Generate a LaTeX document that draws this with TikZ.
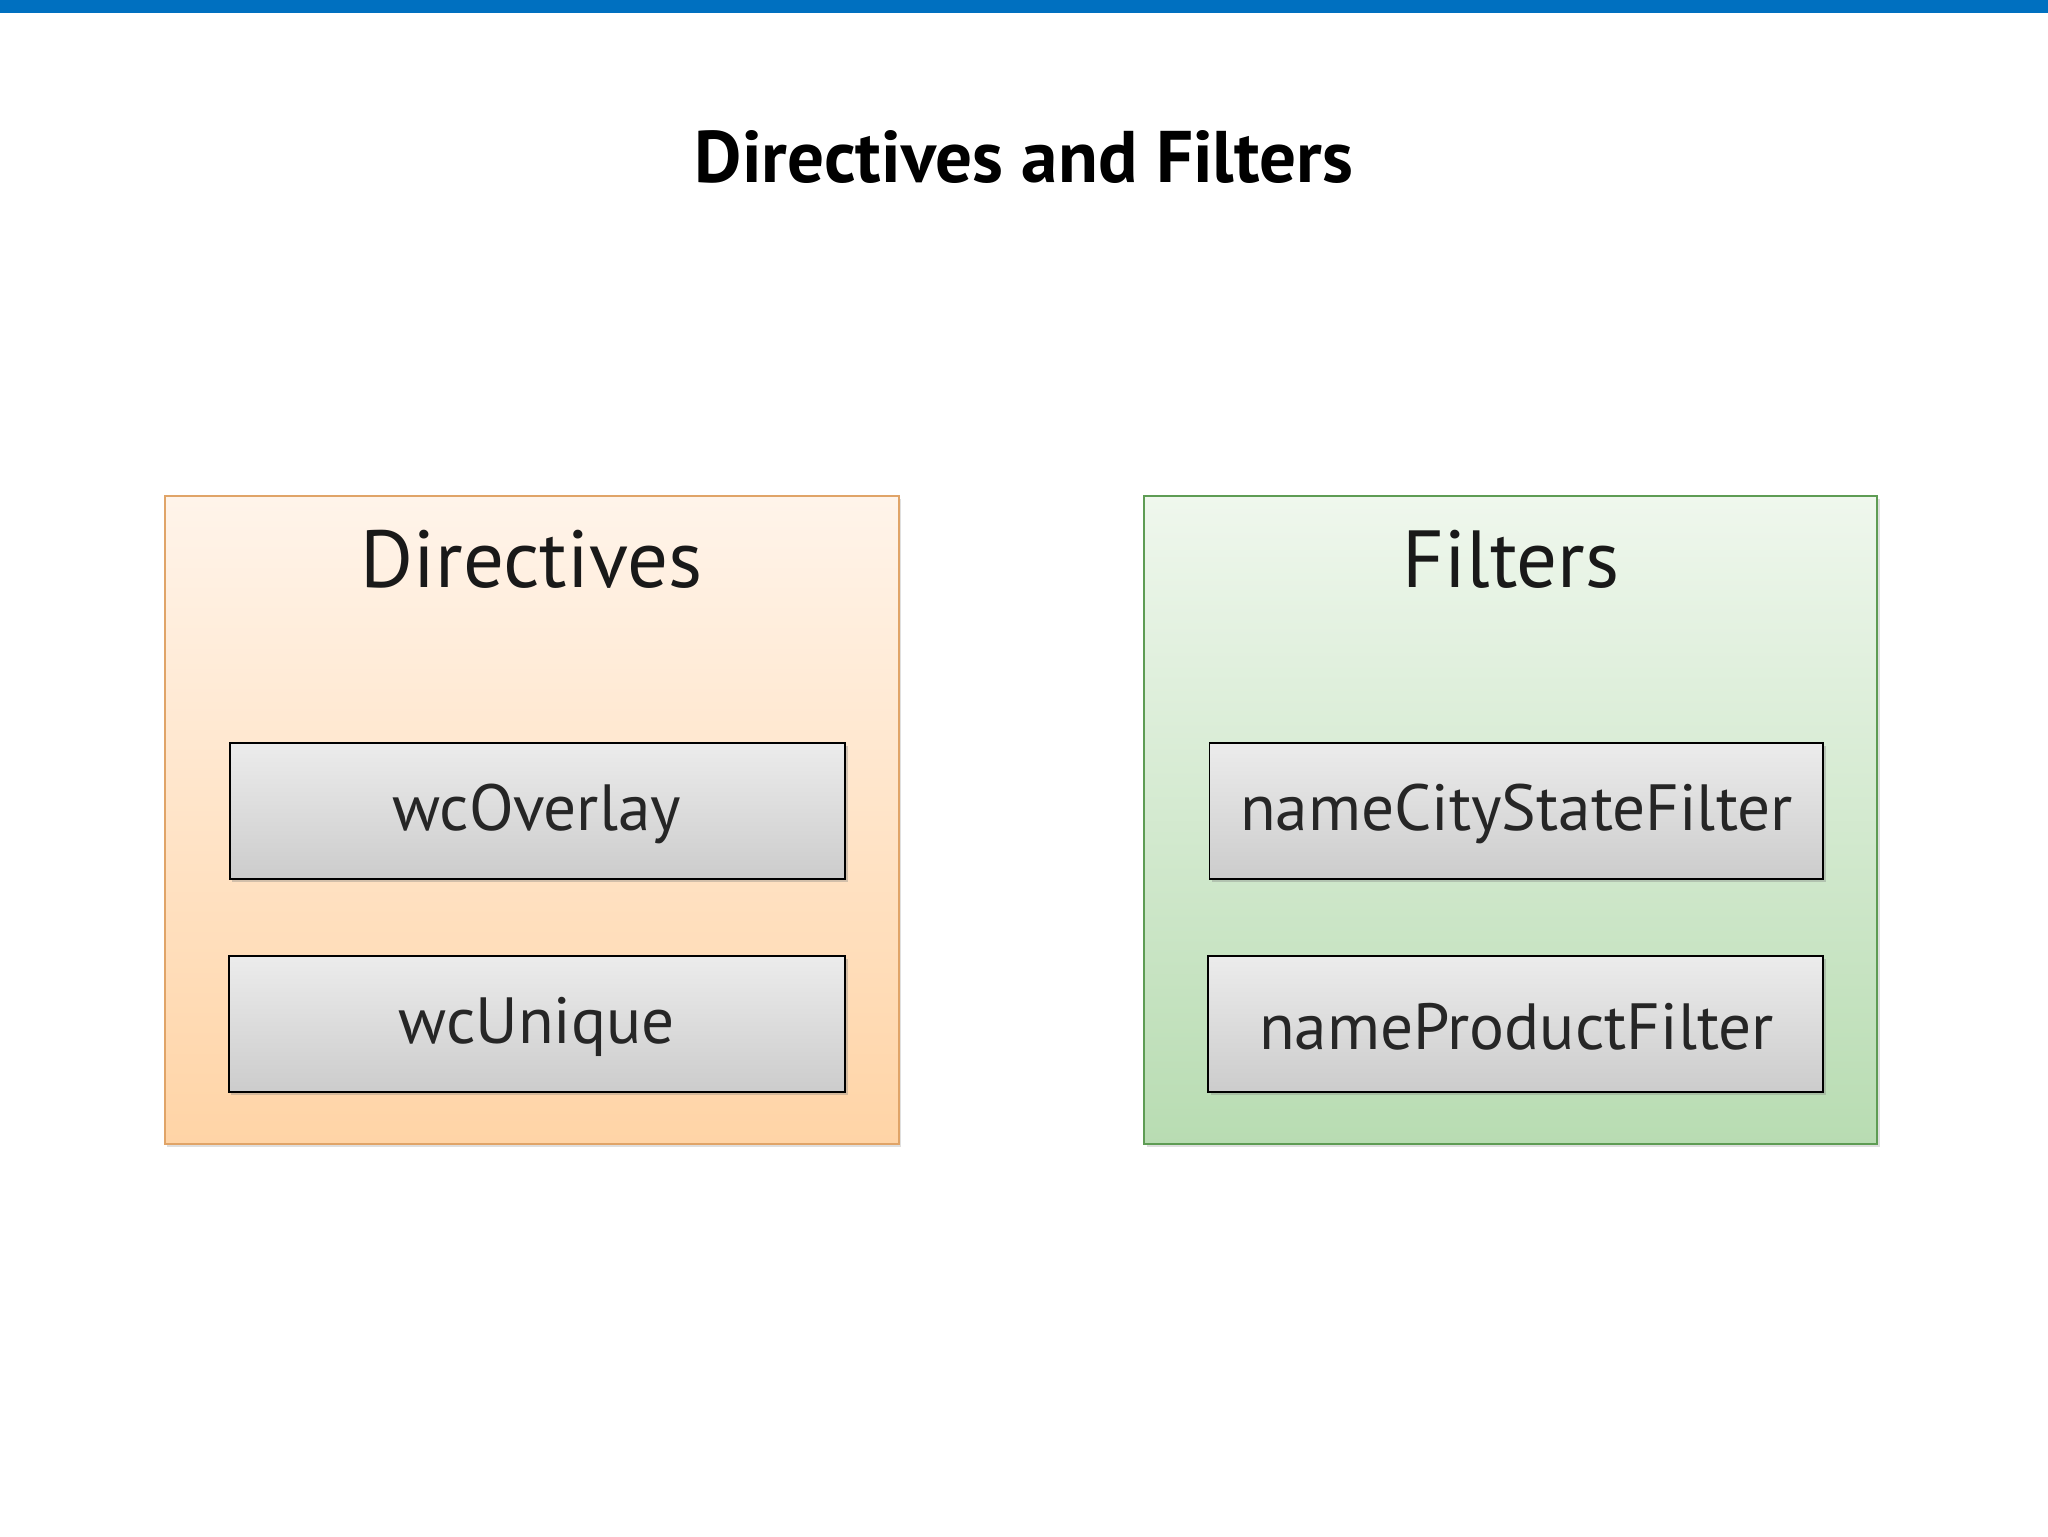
\documentclass[tikz,border=0pt]{standalone}
\usepackage{fontspec}
\setmainfont{PT Sans}
\usetikzlibrary{shadows}
\definecolor{barblue}{HTML}{0070C0}
\definecolor{otop}{HTML}{FFF4EA}
\definecolor{obot}{HTML}{FFD4A6}
\definecolor{oline}{HTML}{E0A468}
\definecolor{gtop}{HTML}{EFF7ED}
\definecolor{gbot}{HTML}{B8DCB2}
\definecolor{gline}{HTML}{5E9C54}
\begin{document}
\begin{tikzpicture}[x=1pt,y=-1pt,
  outer/.style={draw=#1, line width=1.5pt, drop shadow={opacity=0.25,shadow xshift=2pt,shadow yshift=-2pt}},
  inner/.style={draw=black, line width=1.5pt, top color=gray!15, bottom color=gray!40,
     drop shadow={opacity=0.35,shadow xshift=2pt,shadow yshift=-2pt}},
  itext/.style={font=\fontsize{50}{60}\selectfont, text=black!85},
  htext/.style={font=\fontsize{62}{70}\selectfont, text=black!90}]
\useasboundingbox (0,0) rectangle (1568,1176);
\fill[white] (0,0) rectangle (1568,1176);
\fill[barblue] (0,0) rectangle (1568,10);
\node[font=\bfseries\fontsize{56}{64}\selectfont] (title) at (784,120) {Directives and Filters};
% left group
\path[outer=oline, top color=otop, bottom color=obot] (126,380) rectangle (688,876);
\node[coordinate] (dirbox) at (407,628) {};
\node[htext] (dirl) at (407,428) {Directives};
\path[inner] (176,569) rectangle (647,673);
\node[itext] (wco) at (411,623) {wcOverlay};
\path[inner] (175,732) rectangle (647,836);
\node[itext] (wcu) at (411,786) {wcUnique};
% right group
\path[outer=gline, top color=gtop, bottom color=gbot] (876,380) rectangle (1437,876);
\node[htext] (fill) at (1157,428) {Filters};
\path[inner] (926,569) rectangle (1396,673);
\node[itext] (ncs) at (1161,623) {nameCityStateFilter};
\path[inner] (925,732) rectangle (1396,836);
\node[itext] (npf) at (1161,786) {nameProductFilter};
\end{tikzpicture}
\end{document}
